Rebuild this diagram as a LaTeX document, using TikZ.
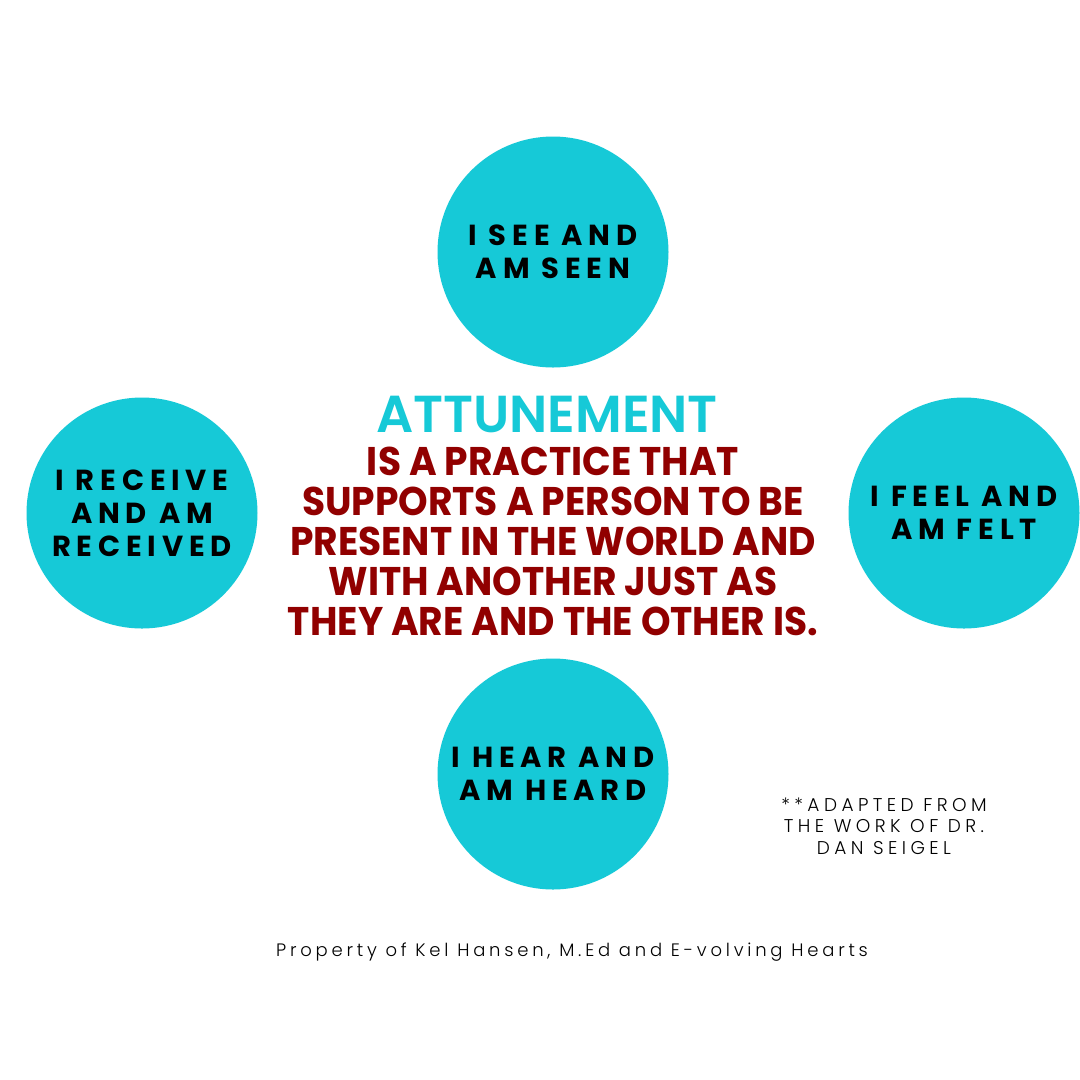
\documentclass[tikz,border=0pt]{standalone}
\usepackage{fontspec}
\setmainfont{Poppins}
\newfontfamily\bubblefont{Poppins Bold}[LetterSpace=20]
\newfontfamily\titlefont{Poppins SemiBold}
\newfontfamily\headfont{Poppins Bold}[FakeStretch=0.94]
\newfontfamily\thinfont{Poppins Light}[LetterSpace=21]
\newfontfamily\smallfont{Poppins Light}[LetterSpace=24]
\definecolor{attcyan}{RGB}{22,201,215}
\definecolor{attred}{RGB}{145,0,0}

\begin{document}
\begin{tikzpicture}[
      x=1pt, y=-1pt,
      bubble/.style={circle, fill=attcyan, minimum size=231pt,
        inner sep=0pt, align=center, text=black,
        font=\bubblefont\fontsize{29}{33}\selectfont},
      note/.style={align=center, text=black}
    ]

    % ------------------ Canvas ------------------
    \useasboundingbox[fill=white] (0,0) rectangle (1080,1080);

    % ------------------ Layout ------------------
    \def\midX{553}
    \def\midY{513}
    \def\armLen{261}
    \def\sideLen{411}

    % ------------------ Four bubbles ------------------
    \node[bubble] (see) at (\midX, \midY-\armLen) {I SEE AND\\AM SEEN};
    \node[bubble] (receive) at (\midX-\sideLen, \midY)
    {I RECEIVE\\AND AM\\RECEIVED};
    \node[bubble] (feel) at (\midX+\sideLen, \midY) {I FEEL AND\\AM FELT};
    \node[bubble] (hear) at (\midX, \midY+\armLen) {I HEAR AND\\AM HEARD};

    % ------------------ Centre text ------------------
    \node[anchor=base, text=attcyan,
      font=\titlefont\fontsize{52}{52}\selectfont] (title) at (547,432)
    {ATTUNEMENT};
    \node[align=center, text=attred,
      font=\headfont\fontsize{40}{40}\selectfont] (define) at (553,541)
    {IS A PRACTICE THAT\\SUPPORTS A PERSON TO BE\\PRESENT IN THE WORLD AND\\
      WITH ANOTHER JUST AS\\THEY ARE AND THE OTHER IS.};

    % ------------------ Credits ------------------
    \node[note, font=\smallfont\fontsize{18.5}{21.5}\selectfont] (source)
    at (884,826) {**ADAPTED FROM\\THE WORK OF DR.\\DAN SEIGEL};
    \node[note, font=\thinfont\fontsize{18}{20}\selectfont] (owner)
    at (572,952) {Property of Kel Hansen, M.Ed and E-volving Hearts};

  \end{tikzpicture}
\end{document}
